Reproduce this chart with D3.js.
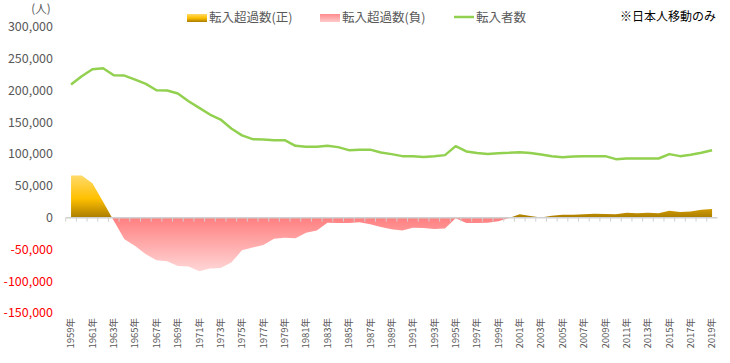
<!DOCTYPE html>
<html>
<head>
<meta charset="utf-8">
<script src="https://cdn.jsdelivr.net/npm/d3@7"></script>
<style>
  body { margin: 0; background: #fff; }
  text { font-family: "Noto Sans CJK JP", "Noto Sans", sans-serif; }
</style>
</head>
<body>
<div id="chart"></div>
<script>
// years 1959..2019
var years = d3.range(1959, 2020);

// 転入超過数 (net inflow)
var netInflow = [
  66500, 66500, 54000, 25000, -5000, -34000, -44600, -57700, -67000, -68700,
  -76000, -77000, -84400, -80000, -79000, -70700, -51400, -47000, -43000, -33000,
  -31500, -32500, -23600, -20000, -7900, -8400, -8400, -7300, -10500, -14700,
  -18300, -20000, -15700, -16200, -17800, -17000, -1000, -8500, -8500, -8000,
  -5800, -500, 5200, 2600, 300, 3100, 4700, 4700, 5200, 6300,
  5800, 5200, 7800, 6800, 7800, 6800, 11000, 8900, 9900, 12500,
  13600
];

// 転入者数 (inflow)
var inflow = [
  209400, 222500, 233500, 235000, 224000, 223500, 217300, 210500, 200500, 200000,
  195300, 183200, 172800, 162300, 154400, 140300, 129500, 123500, 123000, 122000,
  122000, 113100, 111500, 111500, 113100, 111000, 106200, 107000, 107000, 102600,
  100000, 96800, 96800, 95600, 96800, 98400, 112500, 104200, 101800, 100000,
  101500, 102000, 103000, 101600, 99500, 96800, 95200, 96300, 96800, 96800,
  96800, 92100, 93100, 93100, 93100, 93100, 100000, 96800, 99000, 102100,
  106200
];

var yTicks = [300000, 250000, 200000, 150000, 100000, 50000, 0, -50000, -100000, -150000];
var legendNames = ['転入超過数(正)', '転入超過数(負)', '転入者数'];
var note = '※日本人移動のみ';
var unitLabel = '(人)';

var width = 730, height = 363;
var svg = d3.select('#chart').append('svg')
  .attr('width', width).attr('height', height);

var x = d3.scaleBand().domain(years).range([65.7, 717.4]).padding(0);
var y = d3.scaleLinear().domain([-150000, 300000]).range([313, 27]);
var cx = function(yr) { return x(yr) + x.bandwidth() / 2; };

var defs = svg.append('defs');

// gradients, spread over the data extent
var posGrad = defs.append('linearGradient').attr('id', 'posGrad')
  .attr('gradientUnits', 'userSpaceOnUse')
  .attr('x1', 0).attr('x2', 0)
  .attr('y1', y(d3.max(netInflow))).attr('y2', y(0));
posGrad.append('stop').attr('offset', '0%').attr('stop-color', '#ffda6a');
posGrad.append('stop').attr('offset', '55%').attr('stop-color', '#ffc000');
posGrad.append('stop').attr('offset', '100%').attr('stop-color', '#a97c00');

var negGrad = defs.append('linearGradient').attr('id', 'negGrad')
  .attr('gradientUnits', 'userSpaceOnUse')
  .attr('x1', 0).attr('x2', 0)
  .attr('y1', y(0)).attr('y2', y(d3.min(netInflow)));
negGrad.append('stop').attr('offset', '0%').attr('stop-color', '#ff7f80');
negGrad.append('stop').attr('offset', '100%').attr('stop-color', '#ffd6d6');

var legPos = defs.append('linearGradient').attr('id', 'legPos')
  .attr('x1', 0).attr('x2', 0).attr('y1', 0).attr('y2', 1);
legPos.append('stop').attr('offset', '0%').attr('stop-color', '#ffda6a');
legPos.append('stop').attr('offset', '50%').attr('stop-color', '#ffc000');
legPos.append('stop').attr('offset', '100%').attr('stop-color', '#a97c00');

var legNeg = defs.append('linearGradient').attr('id', 'legNeg')
  .attr('x1', 0).attr('x2', 0).attr('y1', 0).attr('y2', 1);
legNeg.append('stop').attr('offset', '0%').attr('stop-color', '#ff8a8c');
legNeg.append('stop').attr('offset', '100%').attr('stop-color', '#ffcaca');

// clip above / below zero
defs.append('clipPath').attr('id', 'clipPos').append('rect')
  .attr('x', 0).attr('y', 0).attr('width', width).attr('height', y(0));
defs.append('clipPath').attr('id', 'clipNeg').append('rect')
  .attr('x', 0).attr('y', y(0)).attr('width', width).attr('height', height - y(0));

var area = d3.area()
  .x(function(d, i) { return cx(years[i]); })
  .y0(y(0))
  .y1(function(d) { return y(d); });

svg.append('path').datum(netInflow)
  .attr('d', area)
  .attr('fill', 'url(#posGrad)')
  .attr('clip-path', 'url(#clipPos)');

svg.append('path').datum(netInflow)
  .attr('d', area)
  .attr('fill', 'url(#negGrad)')
  .attr('clip-path', 'url(#clipNeg)');

// zero axis with ticks at category edges
var x0 = x.range()[0], x1 = x.range()[1];
svg.append('line')
  .attr('x1', x0).attr('x2', x1)
  .attr('y1', y(0)).attr('y2', y(0))
  .attr('stroke', '#d0d0d0').attr('stroke-width', 1.5);

var edges = years.map(function(yr) { return x(yr); });
svg.selectAll('.xtick').data(edges).enter()
  .append('line')
  .attr('class', 'xtick')
  .attr('x1', function(d) { return d; })
  .attr('x2', function(d) { return d; })
  .attr('y1', y(0)).attr('y2', y(0) + 4)
  .attr('stroke', '#d0d0d0').attr('stroke-width', 1);

// inflow line
var line = d3.line()
  .x(function(d, i) { return cx(years[i]); })
  .y(function(d) { return y(d); });

svg.append('path').datum(inflow)
  .attr('d', line)
  .attr('fill', 'none')
  .attr('stroke', '#92d050')
  .attr('stroke-width', 2.5)
  .attr('stroke-linejoin', 'round');

// y axis labels
var fmt = d3.format(',');
svg.selectAll('.ylab').data(yTicks).enter()
  .append('text')
  .attr('class', 'ylab')
  .attr('x', 53)
  .attr('y', function(d) { return y(d); })
  .attr('dy', '0.35em')
  .attr('text-anchor', 'end')
  .style('font-size', '12.5px')
  .attr('fill', function(d) { return d < 0 ? '#ff0000' : '#595959'; })
  .text(function(d) { return d < 0 ? '-' + fmt(-d) : fmt(d); });

svg.append('text')
  .attr('x', 41).attr('y', 13)
  .attr('text-anchor', 'middle')
  .style('font-size', '11.5px')
  .attr('fill', '#595959')
  .text(unitLabel);

// year labels, every other year
var labelYears = years.filter(function(yr) { return (yr - 1959) % 2 === 0; });
svg.selectAll('.xlab').data(labelYears).enter()
  .append('text')
  .attr('class', 'xlab')
  .attr('transform', function(d) { return 'translate(' + cx(d) + ',318) rotate(-90)'; })
  .attr('dy', '0.35em')
  .attr('text-anchor', 'end')
  .style('font-size', '9.5px')
  .attr('fill', '#595959')
  .text(function(d) { return d + '年'; });

// legend
var leg = svg.append('g').style('font-size', '12.5px');
leg.append('rect').attr('x', 187).attr('y', 14).attr('width', 20).attr('height', 8)
  .attr('fill', 'url(#legPos)');
leg.append('text').attr('x', 209).attr('y', 18).attr('dy', '0.35em')
  .attr('fill', '#595959').text(legendNames[0]);
leg.append('rect').attr('x', 320).attr('y', 14).attr('width', 20).attr('height', 8)
  .attr('fill', 'url(#legNeg)');
leg.append('text').attr('x', 342).attr('y', 18).attr('dy', '0.35em')
  .attr('fill', '#595959').text(legendNames[1]);
leg.append('line').attr('x1', 454).attr('x2', 474).attr('y1', 17).attr('y2', 17)
  .attr('stroke', '#92d050').attr('stroke-width', 2.5);
leg.append('text').attr('x', 476).attr('y', 18).attr('dy', '0.35em')
  .attr('fill', '#595959').text(legendNames[2]);
leg.append('text').attr('x', 620).attr('y', 17).attr('dy', '0.35em')
  .attr('fill', '#000').style('font-size', '12px').text(note);
</script>
</body>
</html>
